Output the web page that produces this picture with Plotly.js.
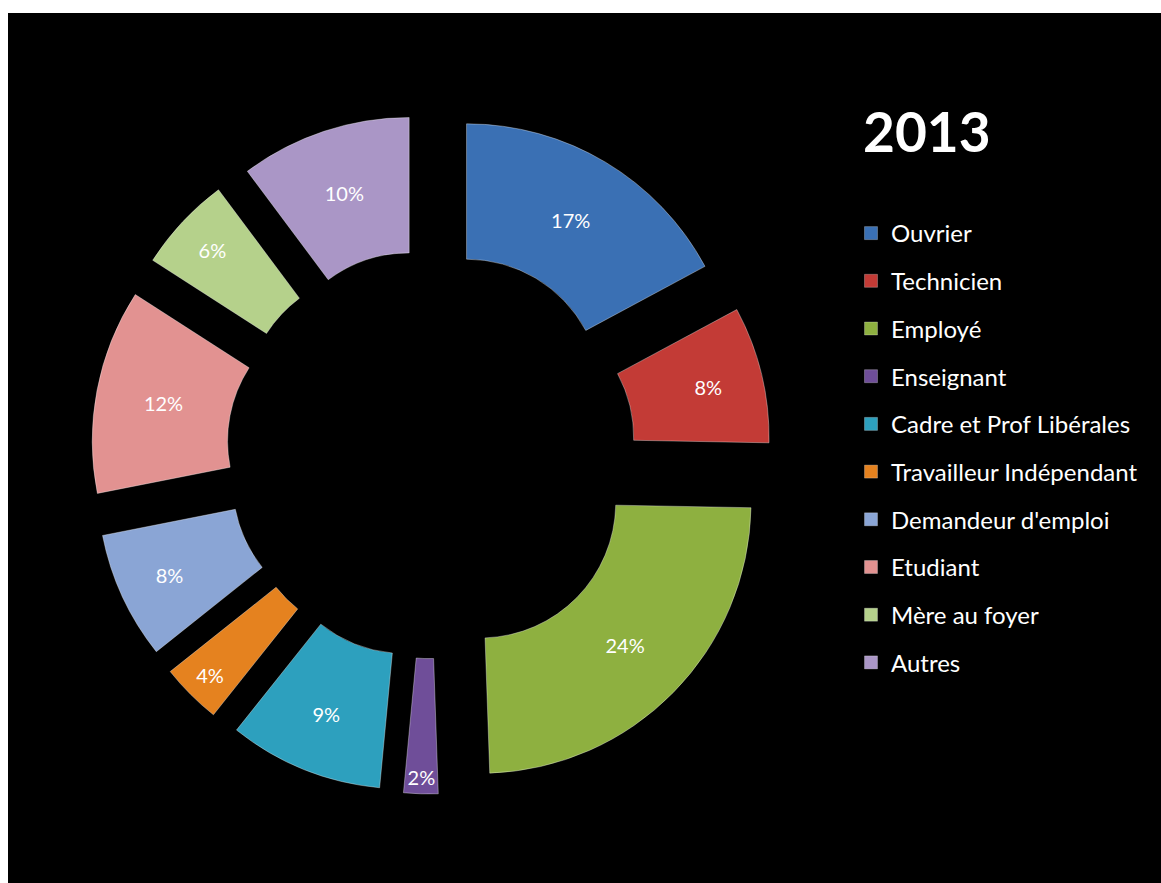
<!DOCTYPE html>
<html>
<head>
<meta charset="utf-8">
<script src="https://cdn.plot.ly/plotly-3.0.1.min.js"></script>
<style>
  html, body { margin: 0; padding: 0; background: #ffffff; }
  #chart { position: absolute; left: 8px; top: 13px; width: 1153px; height: 870px; }
</style>
</head>
<body>
<div id="chart"></div>
<script>
const labels = ["Ouvrier", "Technicien", "Employé", "Enseignant", "Cadre et Prof Libérales",
  "Travailleur Indépendant", "Demandeur d'emploi", "Etudiant", "Mère au foyer", "Autres"];
const values = [17.15, 8.15, 24.15, 2.05, 9.2, 3.6, 7.6, 12.2, 5.7, 10.2];
const colors = ["#3A70B4", "#C33B36", "#8EB040", "#6F4E99", "#2DA0BE",
  "#E5821F", "#8AA5D5", "#E29291", "#B5D18B", "#AA96C6"];
const chartTitle = "2013";

const font = "Lato, 'Open Sans', sans-serif";

const pie = {
  type: "pie",
  labels: labels,
  values: values,
  sort: false,
  direction: "clockwise",
  rotation: 0,
  hole: 0.5,
  pull: values.map(() => 0.256),
  marker: { colors: colors, line: { color: "rgba(255,255,255,0.35)", width: 1 } },
  texttemplate: "%{percent:.0%}",
  textposition: "inside",
  insidetextorientation: "horizontal",
  textfont: { family: font, size: 20, color: "#ffffff" },
  showlegend: false,
  hoverinfo: "label+percent",
  domain: { x: [83 / 1153, 763 / 1153], y: [89 / 870, 769 / 870] }
};

const legendTraces = labels.map((lab, i) => ({
  type: "scatter",
  mode: "markers",
  x: [null], y: [null],
  name: lab,
  legendgroup: "g" + i,
  marker: { symbol: "square", size: 13, color: colors[i], line: { color: "rgba(255,255,255,0.25)", width: 1 } },
  showlegend: true,
  hoverinfo: "skip"
}));

const layout = {
  width: 1153,
  height: 870,
  paper_bgcolor: "#000000",
  plot_bgcolor: "#000000",
  margin: { l: 0, r: 0, t: 0, b: 0 },
  font: { family: font, color: "#ffffff" },
  title: {
    text: "<b>" + chartTitle + "</b>",
    font: { family: font, size: 55, color: "#ffffff" },
    x: 855 / 1153, xref: "container", xanchor: "left",
    y: 1 - 120 / 870, yref: "container", yanchor: "middle"
  },
  xaxis: { visible: false },
  yaxis: { visible: false },
  showlegend: true,
  legend: {
    x: 843 / 1153, xanchor: "left",
    y: 1 - 198 / 870, yanchor: "top",
    font: { family: font, size: 24, color: "#ffffff" },
    bgcolor: "rgba(0,0,0,0)",
    traceorder: "grouped",
    tracegroupgap: 13.5
  },
  uniformtext: { mode: "show", minsize: 20 }
};

Plotly.newPlot("chart", [pie].concat(legendTraces), layout, { displayModeBar: false });
</script>
</body>
</html>
